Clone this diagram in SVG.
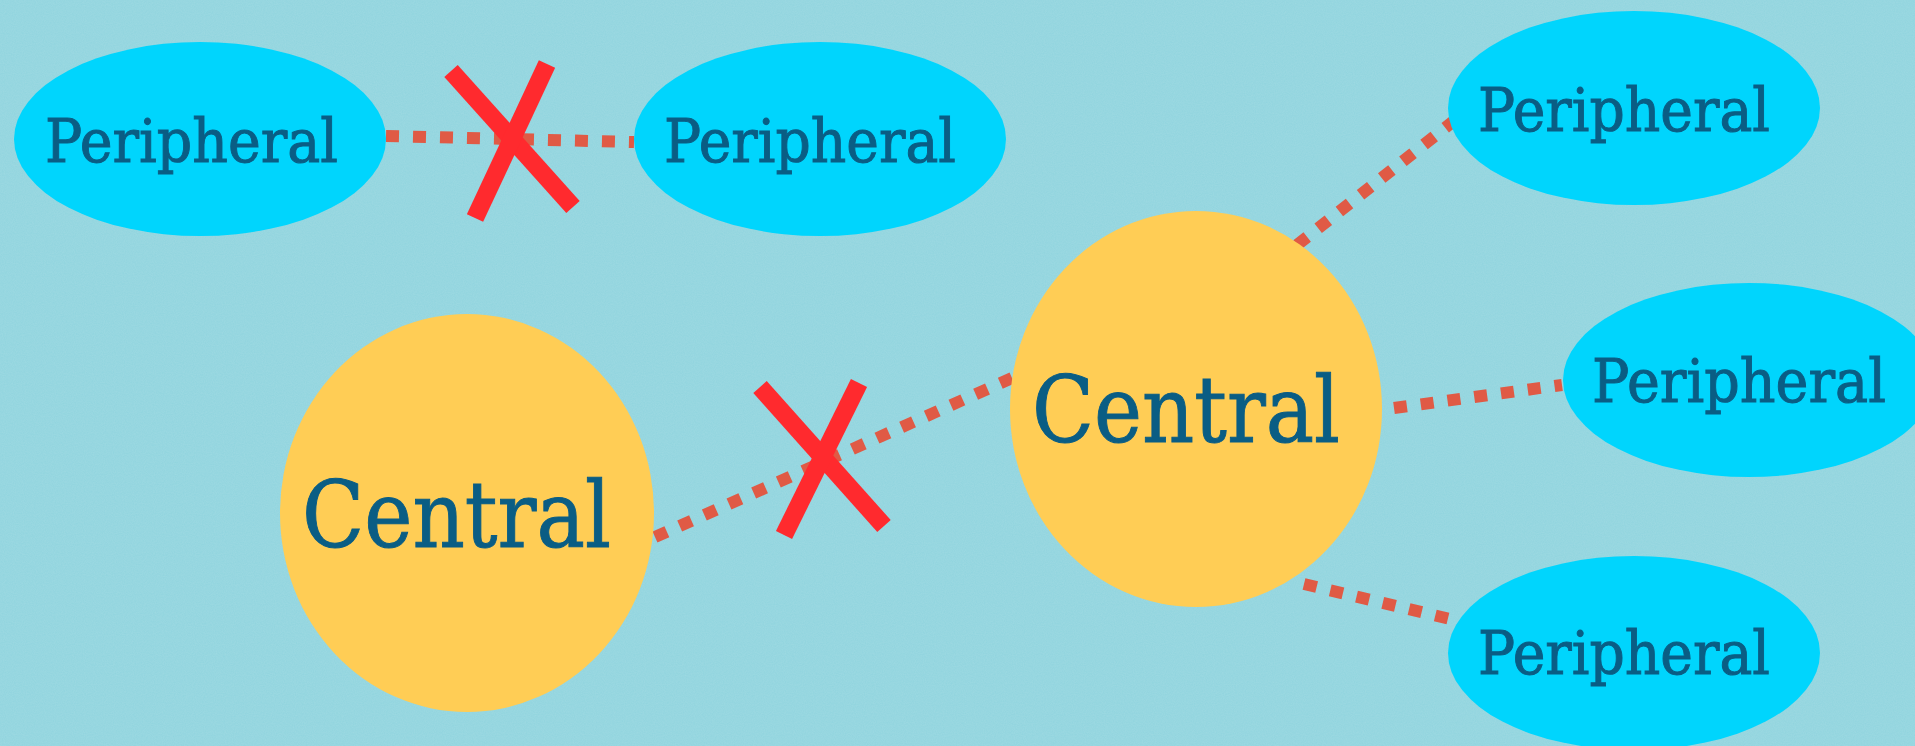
<svg xmlns="http://www.w3.org/2000/svg" width="1915" height="746" viewBox="0 0 1915 746">
<style>
.bg{fill:#90d4de}
.per{fill:#00d5fd}
.cen{fill:#ffcd55}
.lbl{font-family:"DejaVu Serif","Liberation Serif",serif;fill:#0a5d84;stroke:#0a5d84;stroke-width:1}
.p{font-size:60px}
.c{font-size:92px}
.edge{stroke:#e05a45;stroke-width:12;stroke-dasharray:13 14;fill:none}
.x{stroke:#ff2a2e;stroke-width:18;stroke-linecap:butt;fill:none}
</style>
<defs>
<filter id="noise" x="0" y="0" width="100%" height="100%">
<feTurbulence type="fractalNoise" baseFrequency="0.9" numOctaves="2" seed="3" result="n"/>
<feColorMatrix type="matrix" values="0 0 0 0 1  0 0 0 0 1  0 0 0 0 1  0 0 0 0.12 0"/>
</filter>
</defs>
<rect class="bg" x="0" y="0" width="1915" height="746"/>
<rect x="0" y="0" width="1915" height="746" filter="url(#noise)"/>
<g id="connectors">
<line class="edge" x1="386" y1="136" x2="634" y2="142"/>
<line class="edge" x1="655" y1="537" x2="1012" y2="378"/>
<line class="edge" x1="1297" y1="245" x2="1455" y2="120"/>
<line class="edge" x1="1394" y1="408" x2="1562" y2="385"/>
<line class="edge" x1="1304" y1="584" x2="1450" y2="619"/>
</g>
<g id="p1"><ellipse class="per" cx="200" cy="139" rx="186" ry="97"/><text class="lbl p" x="45" y="162" textLength="293" lengthAdjust="spacingAndGlyphs">Peripheral</text></g>
<g id="p2"><ellipse class="per" cx="820" cy="139" rx="186" ry="97"/><text class="lbl p" x="664" y="162" textLength="292" lengthAdjust="spacingAndGlyphs">Peripheral</text></g>
<g id="c1"><ellipse class="cen" cx="467" cy="513" rx="187" ry="199"/><text class="lbl c" x="302" y="547" textLength="309" lengthAdjust="spacingAndGlyphs">Central</text></g>
<g id="c2"><ellipse class="cen" cx="1196" cy="409" rx="186" ry="198"/><text class="lbl c" x="1032" y="442" textLength="308" lengthAdjust="spacingAndGlyphs">Central</text></g>
<g id="p3"><ellipse class="per" cx="1634" cy="108" rx="186" ry="97"/><text class="lbl p" x="1478" y="131" textLength="292" lengthAdjust="spacingAndGlyphs">Peripheral</text></g>
<g id="p4"><ellipse class="per" cx="1749" cy="380" rx="186" ry="97"/><text class="lbl p" x="1592" y="402" textLength="294" lengthAdjust="spacingAndGlyphs">Peripheral</text></g>
<g id="p5"><ellipse class="per" cx="1634" cy="653" rx="186" ry="97"/><text class="lbl p" x="1478" y="674" textLength="292" lengthAdjust="spacingAndGlyphs">Peripheral</text></g>
<g id="marks">
<line class="x" x1="451" y1="71" x2="573" y2="207"/>
<line class="x" x1="547" y1="64" x2="475" y2="218"/>
<line class="x" x1="760" y1="387" x2="884" y2="526"/>
<line class="x" x1="859" y1="383" x2="784" y2="535"/>
</g>
</svg>
